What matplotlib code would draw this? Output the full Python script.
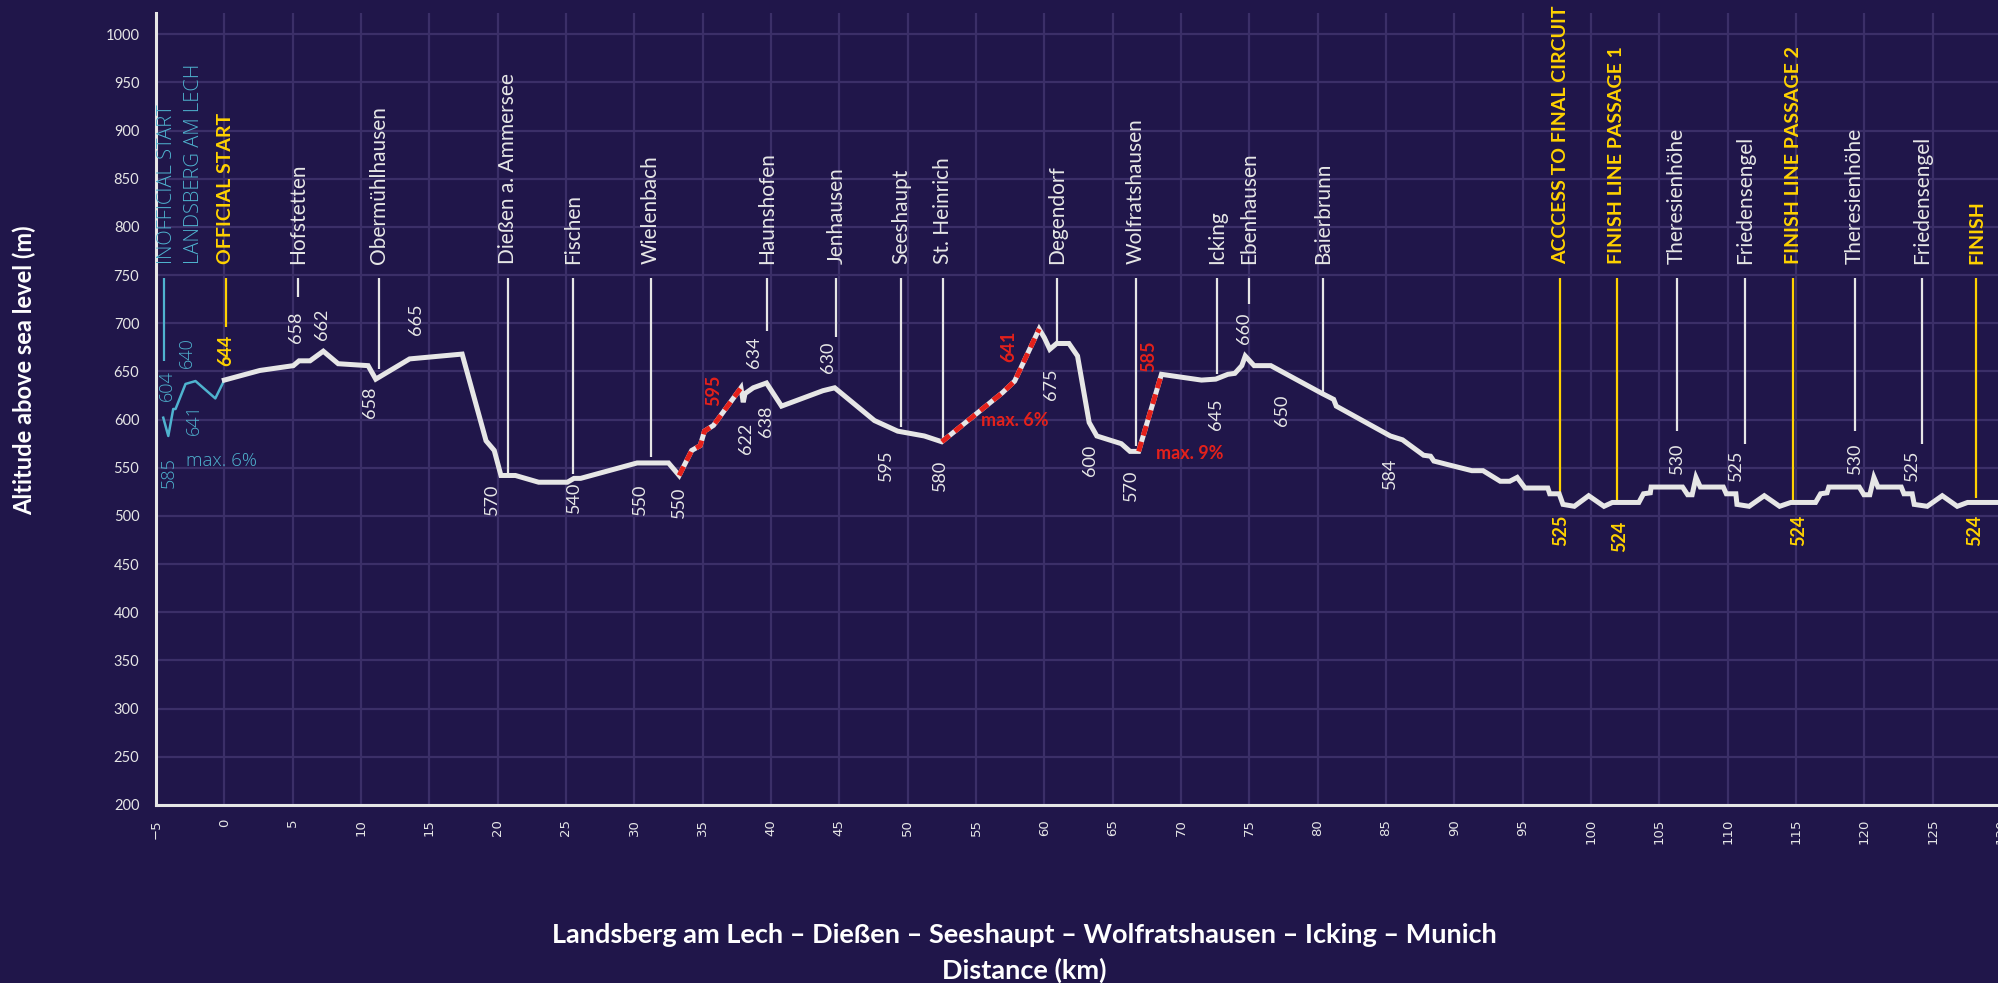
import matplotlib
matplotlib.use("Agg")
import matplotlib.pyplot as plt

BG = "#20164A"
GRID = "#3B2F68"
WHITE = "#E6E6E6"
YELLOW = "#FFD200"
CYAN = "#4FB3CF"
RED = "#E4211B"

plt.rcParams["font.family"] = ["Lato", "DejaVu Sans"]

# ---- Profile (km, m) -------------------------------------------------------
pre_km = [-4.47, -4.1, -3.74, -3.57, -2.84, -2.11, -0.66, 0.0]
pre_alt = [602, 583, 611, 611, 637, 640, 622, 641]

route_km = [0, 2.6, 5.05, 5.47, 6.27, 7.24, 8.33, 10.52, 11.08, 13.56, 17.4,
            19.15, 19.75, 20.24, 21.3, 23.0, 25.1, 25.58, 26.07, 30.2, 32.5,
            33.28, 34.2, 34.82, 35.13, 35.79, 37.8, 37.97, 38.1, 38.7, 39.67,
            40.77, 43.8, 44.66, 47.57, 49.27, 51.22, 52.5, 56.94, 57.83, 59.62,
            60.0, 60.4, 60.9, 61.8, 62.43, 63.28, 63.84, 65.63, 66.27, 66.9,
            68.57, 71.5, 72.54, 73.43, 73.94, 74.45, 74.7, 75.35, 76.57, 80.34,
            81.17, 81.36, 85.32, 86.21, 87.75, 88.26, 88.5, 89.6, 91.28, 92.1,
            93.36, 94.05, 94.6, 95.17, 96.84, 96.98, 97.67, 97.95, 98.78, 99.83,
            100.95, 101.56, 103.5, 103.84, 104.34, 104.4, 106.7, 107.07, 107.4,
            107.68, 108.0, 109.68, 109.9, 110.6, 110.68, 111.57, 112.68, 113.8,
            114.62, 116.43, 116.8, 117.27, 117.4, 119.63, 119.97, 120.4, 120.7,
            121.0, 122.7, 122.9, 123.5, 123.65, 124.6, 125.7, 126.8, 127.55, 130.0]
route_alt = [641, 651, 656, 661, 661, 671, 658, 656, 642, 663, 668,
             578, 568, 542, 542, 535, 535, 539, 539, 555, 555,
             542, 568, 573, 588, 594, 633, 618, 627, 633, 638,
             614, 630, 633, 599, 588, 583, 577, 628, 640, 694,
             685, 673, 679, 679, 666, 597, 583, 575, 567, 567,
             647, 641, 642, 647, 648, 656, 666, 656, 656, 627,
             621, 614, 583, 579, 563, 562, 557, 553, 547, 547,
             536, 536, 540, 529, 529, 523, 523, 512, 510, 521,
             510, 514, 514, 523, 524, 530, 530, 522, 522,
             540, 530, 530, 523, 523, 512, 510, 521, 510,
             514, 514, 523, 524, 530, 530, 522, 522, 540,
             530, 530, 523, 523, 512, 510, 521, 510, 514, 514]

# steepest climbs (start km, end km)
climbs = [(33.28, 37.8), (52.5, 59.62), (66.9, 68.57)]

# ---- Places ----------------------------------------------------------------
place_km = [-4.42, 0.1, 5.39, 11.32, 20.72, 25.53, 31.22, 39.72, 44.78, 49.51,
            52.55, 60.9, 66.7, 72.61, 74.96, 80.4, 97.75, 101.9, 106.3, 111.3,
            114.8, 119.3, 124.2, 128.2]
place_names = ["INOFFICIAL START\nLANDSBERG AM LECH", "OFFICIAL START", "Hofstetten",
               "Obermühlhausen", "Dießen a. Ammersee", "Fischen", "Wielenbach",
               "Haunshofen", "Jenhausen", "Seeshaupt", "St. Heinrich", "Degendorf",
               "Wolfratshausen", "Icking", "Ebenhausen", "Baierbrunn",
               "ACCCESS TO FINAL CIRCUIT", "FINISH LINE PASSAGE 1", "Theresienhöhe",
               "Friedensengel", "FINISH LINE PASSAGE 2", "Theresienhöhe",
               "Friedensengel", "FINISH"]
place_type = ["pre", "key", "town", "town", "town", "town", "town", "town", "town",
              "town", "town", "town", "town", "town", "town", "town", "key", "key",
              "town", "town", "key", "town", "town", "key"]
place_line_end = [661, 696, 727, 653, 545, 544, 561, 692, 686, 592, 578, 680, 573,
                  647, 720, 627, 524, 516, 588, 575, 516, 588, 575, 519]

# ---- Spot heights ----------------------------------------------------------
spot_text = ["604", "585", "640", "641", "644", "658", "662", "658", "665", "570",
             "540", "550", "550", "595", "634", "622", "638", "630", "595", "580",
             "641", "675", "600", "570", "585", "645", "660", "650", "584", "525",
             "524", "530", "525", "524", "530", "525", "524"]
spot_type = ["pre", "pre", "pre", "pre", "key", "town", "town", "town", "town", "town",
             "town", "town", "town", "climb", "town", "town", "town", "town", "town",
             "town", "climb", "town", "town", "town", "climb", "town", "town", "town",
             "town", "key", "key", "town", "town", "key", "town", "town", "key"]
spot_x = [-4.18, -4.06, -2.77, -2.24, 0.14, 5.25, 7.12, 10.64, 14.04, 19.58,
          25.55, 30.4, 33.24, 35.84, 38.78, 38.17, 39.67, 44.17, 48.42, 52.4,
          57.4, 60.52, 63.33, 66.35, 67.62, 72.59, 74.64, 77.39, 85.32, 97.75,
          102.1, 106.3, 110.6, 115.2, 119.3, 123.5, 128.1]
spot_y = [635, 545, 670, 600, 672, 696, 699, 618, 704, 517,
          519, 517, 514, 630, 670, 581, 598, 665, 553, 542,
          676, 637, 558, 532, 666, 606, 695, 610, 544, 485,
          479, 560, 553, 485, 560, 553, 485]

gradient_text = ["max. 6%", "max. 6%", "max. 9%"]
gradient_type = ["pre", "climb", "climb"]
gradient_x = [-2.84, 55.33, 68.19]
gradient_y = [557, 599, 565]

COLORS = {"pre": CYAN, "key": YELLOW, "town": WHITE, "climb": RED}
WEIGHTS = {"pre": "light", "key": "bold", "town": "normal", "climb": "bold"}
FAMILY = {"pre": ["Open Sans", "DejaVu Sans"], "key": ["Lato", "DejaVu Sans"],
          "town": ["Lato", "DejaVu Sans"], "climb": ["Lato", "DejaVu Sans"]}
NAME_SIZE = {"pre": 14.5, "key": 14, "town": 15, "climb": 15}

fig = plt.figure(figsize=(19.98, 9.83), dpi=100, facecolor=BG)
ax = fig.add_axes([156 / 1998, 1 - 805 / 983, (2001 - 156) / 1998, (805 - 13) / 983])
ax.set_facecolor(BG)
ax.set_xlim(-5, 130)
ax.set_ylim(200, 1022)
ax.set_xticks(range(-5, 131, 5))
ax.set_yticks(range(200, 1001, 50))
ax.grid(color=GRID, lw=1.6, zorder=0)
ax.set_axisbelow(True)
for s in ("top", "right"):
    ax.spines[s].set_visible(False)
for s in ("left", "bottom"):
    ax.spines[s].set_color(WHITE)
    ax.spines[s].set_linewidth(2.2)
ax.tick_params(axis="both", length=0, colors=WHITE)
ax.tick_params(axis="x", pad=10, labelsize=9.5, labelrotation=90)
ax.tick_params(axis="y", pad=12, labelsize=10.5)
for lbl in ax.get_xticklabels():
    lbl.set_fontfamily("DejaVu Sans")

# ---- place markers ---------------------------------------------------------
for km, name, kind, end in zip(place_km, place_names, place_type, place_line_end):
    c = COLORS[kind]
    ax.plot([km, km], [747, end], color=c, lw=1.6, solid_capstyle="butt", zorder=2)
    style = dict(rotation=90, va="bottom", color=c, fontsize=NAME_SIZE[kind],
                 fontweight=WEIGHTS[kind], family=FAMILY[kind], zorder=5)
    if "\n" in name:
        ax.text(km + 1.2, 761, name, ha="center", multialignment="left",
                linespacing=1.45, **style)
    else:
        ax.text(km, 761, name, ha="center", **style)

# ---- profile ---------------------------------------------------------------
ax.plot(pre_km, pre_alt, color=CYAN, lw=1.8, zorder=3)
ax.plot(route_km, route_alt, color=WHITE, lw=3.6, solid_joinstyle="miter", zorder=4)
for a, b in climbs:
    xs = [k for k in route_km if a <= k <= b]
    ys = [h for k, h in zip(route_km, route_alt) if a <= k <= b]
    ax.plot(xs, ys, color=RED, lw=3.6, linestyle=(0, (2.0, 1.3)), zorder=5)

for t, kind, x, y in zip(spot_text, spot_type, spot_x, spot_y):
    ax.text(x, y, t, rotation=90, ha="center", va="center", color=COLORS[kind],
            fontsize=13, fontweight=WEIGHTS[kind], family=FAMILY[kind], zorder=6)

for t, kind, x, y in zip(gradient_text, gradient_type, gradient_x, gradient_y):
    ax.text(x, y, t, ha="left", va="center", color=COLORS[kind],
            fontsize=13.5 if kind == "pre" else 13, fontweight=WEIGHTS[kind],
            family=FAMILY[kind], zorder=6)

# ---- axis titles -----------------------------------------------------------
fig.text(24 / 1998, 1 - 370 / 983, "Altitude above sea level (m)", rotation=90,
         ha="center", va="center", color="white", fontsize=17, fontweight="bold")
fig.text(1024 / 1998, 1 - 935 / 983,
         "Landsberg am Lech – Dießen – Seeshaupt – Wolfratshausen – Icking – Munich",
         ha="center", va="center", color="white", fontsize=19.5, fontweight="bold")
fig.text(1024 / 1998, 1 - 970 / 983, "Distance (km)",
         ha="center", va="center", color="white", fontsize=19.5, fontweight="bold")

fig.savefig("out.png", dpi=100, facecolor=BG)
